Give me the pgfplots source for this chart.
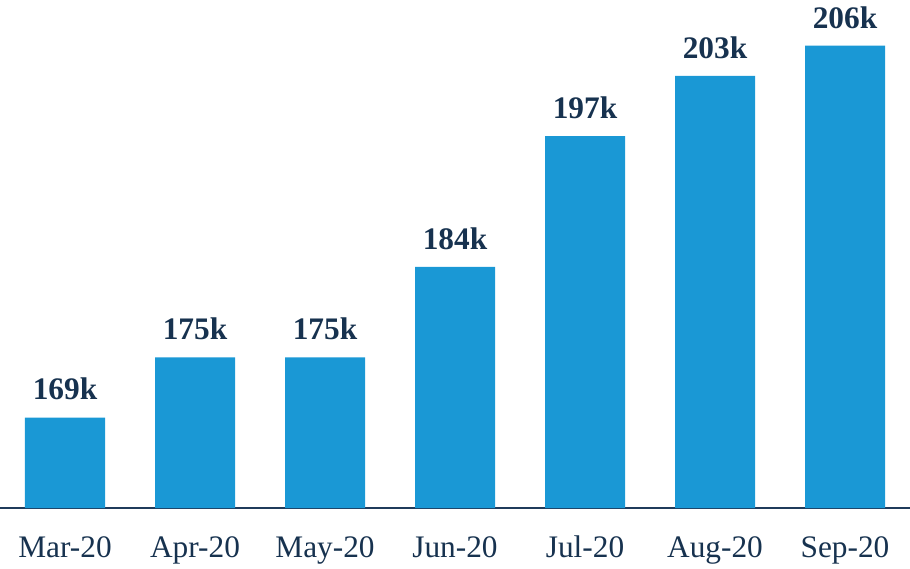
\documentclass[border=0pt]{standalone}
\usepackage{pgfplots}
\pgfplotsset{compat=1.18}
\usepackage{fontspec}
\setmainfont{Liberation Serif}
\definecolor{barblue}{HTML}{1A98D5}
\definecolor{navy}{HTML}{17324F}
\definecolor{axisnavy}{HTML}{1F3B5B}
\begin{document}
\begin{tikzpicture}
\begin{axis}[
  scale only axis,
  width=682.5pt, height=381pt,
  xmin=-0.5, xmax=6.5,
  ymin=160, ymax=210.55,
  axis y line=none,
  axis x line*=bottom,
  x axis line style={-, color=axisnavy, line width=1.5pt},
  major tick length=0pt,
  xtick=data,
  xticklabels={Mar-20,Apr-20,May-20,Jun-20,Jul-20,Aug-20,Sep-20},
  xticklabel style={font=\fontsize{23.5}{26}\selectfont, text=navy, anchor=base, yshift=-36.75pt, inner sep=0pt},
  ybar, bar width=60pt,
  point meta=explicit symbolic,
  nodes near coords,
  every node near coord/.append style={font=\fontsize{23.5}{26}\selectfont\bfseries, text=navy, anchor=south, inner sep=0pt, yshift=12.75pt},
  clip=false,
]
\addplot[fill=barblue, draw=none] coordinates {
  (0,169) [169k]
  (1,175) [175k]
  (2,175) [175k]
  (3,184) [184k]
  (4,197) [197k]
  (5,203) [203k]
  (6,206) [206k]
};
\end{axis}
\pgfresetboundingbox
\path (0pt,-45pt) rectangle (682.5pt,381pt);
\end{tikzpicture}
\end{document}
